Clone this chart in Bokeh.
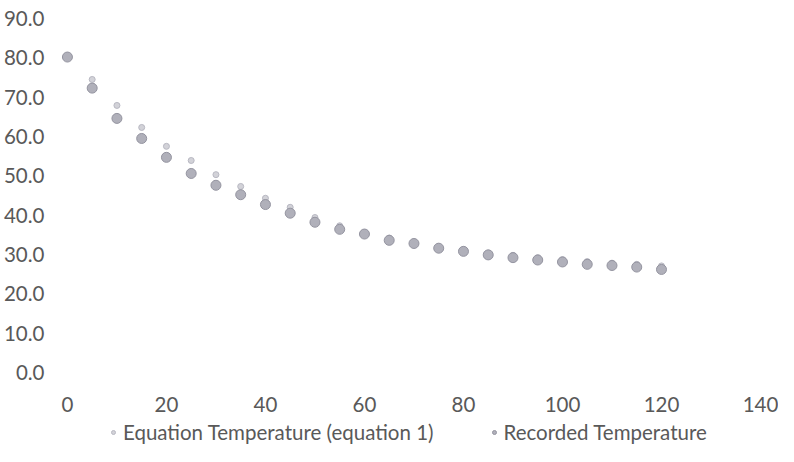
from bokeh.plotting import figure
from bokeh.layouts import column
from bokeh.models import Legend, LegendItem, ColumnDataSource, FixedTicker, NumeralTickFormatter
from bokeh.embed import file_html
from bokeh.resources import INLINE

time_min = [0, 5, 10, 15, 20, 25, 30, 35, 40, 45, 50, 55, 60, 65, 70, 75, 80, 85, 90, 95, 100, 105, 110, 115, 120]
recorded_temp = [80.2, 72.3, 64.6, 59.5, 54.7, 50.6, 47.6, 45.2, 42.7, 40.5, 38.2, 36.4, 35.2, 33.6, 32.8, 31.6, 30.8, 29.9, 29.2, 28.6, 28.1, 27.5, 27.2, 26.8, 26.2]
equation_temp = [80.2, 74.5, 67.9, 62.3, 57.5, 53.9, 50.3, 47.3, 44.3, 42.0, 39.4, 37.3, 35.6, 34.2, 33.0, 32.0, 31.2, 30.4, 29.8, 29.2, 28.7, 28.2, 27.8, 27.5, 27.1]
x_ticks = [0, 20, 40, 60, 80, 100, 120, 140]
y_ticks = [0, 10, 20, 30, 40, 50, 60, 70, 80, 90]
series_labels = ["Equation Temperature (equation 1)", "Recorded Temperature"]

FONT = "Lato"
TXT = "#595959"
EQ_STYLE = dict(size=6, marker="circle", fill_color="#d2d2d8", line_color="#b8b8c2", line_width=1)
REC_STYLE = dict(size=10, marker="circle", fill_color="#b0b0ba", line_color="#9494a0", line_width=1)

src = ColumnDataSource(dict(t=time_min, rec=recorded_temp, eq=equation_temp))

# small left pad in the x range so the first marker is not cut by the frame edge
p = figure(width=778, height=416, x_range=(-1.4, 140), y_range=(0, 90),
           output_backend="svg", toolbar_location=None,
           min_border_left=60, min_border_right=18, min_border_top=18, min_border_bottom=44)
p.outline_line_color = None
p.grid.grid_line_color = None

for ax in (p.xaxis[0], p.yaxis[0]):
    ax.axis_line_color = None
    ax.major_tick_line_color = None
    ax.minor_tick_line_color = None
    ax.major_label_text_font = FONT
    ax.major_label_text_font_size = "20.5px"
    ax.major_label_text_color = TXT

p.xaxis.ticker = FixedTicker(ticks=x_ticks)
p.yaxis.ticker = FixedTicker(ticks=y_ticks)
p.yaxis.formatter = NumeralTickFormatter(format="0.0")
p.xaxis.major_label_standoff = 18
p.yaxis.major_label_standoff = 10

p.scatter("t", "eq", source=src, **EQ_STYLE)
p.scatter("t", "rec", source=src, **REC_STYLE)

# legend strip below the chart (its ranges keep the series out of view; only the legend shows)
lf = figure(width=778, height=30, x_range=(1000, 1001), y_range=(1000, 1001),
            output_backend="svg", toolbar_location=None,
            min_border_left=0, min_border_right=0, min_border_top=0, min_border_bottom=0)
lf.axis.visible = False
lf.grid.visible = False
lf.outline_line_color = None
l_eq = lf.scatter("t", "eq", source=src, **EQ_STYLE)
l_rec = lf.scatter("t", "rec", source=src, **REC_STYLE)

legend = Legend(items=[LegendItem(label=series_labels[0], renderers=[l_eq]),
                       LegendItem(label=series_labels[1], renderers=[l_rec])],
                orientation="horizontal", location=(48, 2))
legend.label_text_font = FONT
legend.label_text_font_size = "20.5px"
legend.label_text_color = TXT
legend.border_line_color = None
legend.background_fill_alpha = 0
legend.glyph_width = 10
legend.glyph_height = 20
legend.label_height = 20
legend.label_standoff = 5
legend.spacing = 55
legend.padding = 3
legend.margin = 0
lf.add_layout(legend, "center")

layout = column(p, lf, spacing=0)
open("out.html", "w").write(file_html(layout, INLINE))
